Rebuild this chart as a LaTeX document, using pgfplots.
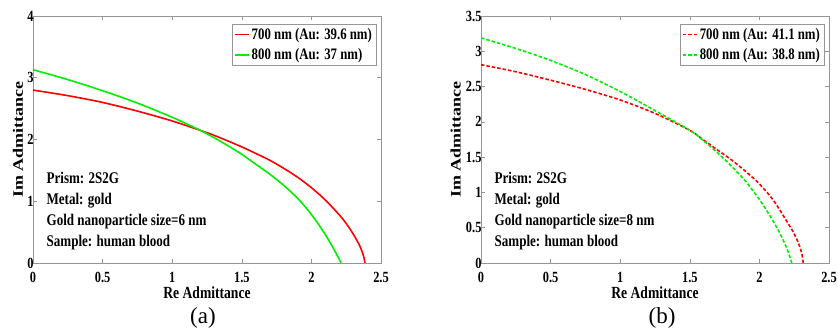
\documentclass[border=0pt]{standalone}
\usepackage{pgfplots}
\pgfplotsset{compat=1.18}
\usepackage{fontspec}
\setmainfont{Liberation Serif}[FakeStretch=0.8]
\newfontfamily\capfont{Liberation Serif}
\definecolor{mred}{RGB}{255,0,0}
\definecolor{mgreen}{RGB}{0,240,0}
\definecolor{framegray}{RGB}{150,150,150}

\pgfplotsset{
 myaxis/.style={
  scale only axis, width=348pt, height=247pt,
  xmin=0, xmax=2.5, ymin=0,
  xtick={0,0.5,1,1.5,2,2.5},
  xticklabels={0,0.5,1,1.5,2,2.5},
  tick align=inside, major tick length=4pt,
  axis line style={framegray, line width=0.8pt},
  every tick/.style={framegray, line width=0.6pt},
  /pgf/number format/assume math mode=true,
  tick label style={font=\bfseries\fontsize{15.5}{15.5}\selectfont, black},
  xticklabel style={yshift=-6pt},
  yticklabel style={xshift=4pt},
  xlabel={Re Admittance}, ylabel={Im Admittance},
  every axis x label/.style={at={(axis description cs:0.5,-0.1215)}, anchor=center, font=\bfseries\fontsize{17}{17}\selectfont},
  legend cell align=left,
  legend style={at={(axis description cs:0.986,0.968)}, anchor=north east, draw=framegray, font=\bfseries\fontsize{16}{16}\selectfont, inner xsep=2pt, inner ysep=2pt, row sep=4pt, /tikz/every even column/.append style={column sep=0pt}},
  legend image code/.code={\draw[#1] (0pt,0pt) -- (14pt,0pt);},
 },
 ylab/.style={every axis y label/.style={at={(axis description cs:#1,0.5)}, anchor=center, rotate=90, yscale=0.8, font=\capfont\bfseries\fontsize{18}{18}\selectfont}},
}
\tikzset{anno/.style={anchor=base west, font=\bfseries\fontsize{16.3}{16.3}\selectfont}}

\pgfplotstableread{
x y
0 2.80
0.25 2.71
0.5 2.60
0.75 2.46
1.0 2.30
1.25 2.11
1.375 2.00
1.5 1.88
1.6 1.775
1.7 1.665
1.8 1.535
1.9 1.39
2.0 1.22
2.1 1.02
2.2 0.78
2.25 0.64
2.3 0.47
2.34 0.31
2.36 0.21
2.375 0.11
2.385 0.0
}\redA
\pgfplotstableread{
x y
0 3.13
0.25 2.97
0.5 2.79
0.75 2.59
1.0 2.36
1.2 2.15
1.3 2.03
1.4 1.90
1.5 1.76
1.6 1.60
1.7 1.44
1.8 1.26
1.9 1.05
1.95 0.925
2.0 0.785
2.05 0.63
2.1 0.46
2.15 0.27
2.2 0.06
2.213 0.0
}\greenA
\pgfplotstableread{
x y
0 2.81
0.25 2.71
0.5 2.59
0.75 2.46
1.0 2.31
1.25 2.12
1.5 1.88
1.6 1.74
1.7 1.60
1.8 1.46
1.9 1.30
2.0 1.12
2.1 0.89
2.2 0.58
2.24 0.45
2.27 0.33
2.29 0.23
2.305 0.13
2.315 0.0
}\redB
\pgfplotstableread{
x y
0 3.19
0.25 3.04
0.5 2.87
0.75 2.67
1.0 2.43
1.25 2.16
1.5 1.88
1.6 1.73
1.7 1.56
1.8 1.37
1.9 1.16
2.0 0.90
2.05 0.75
2.1 0.59
2.15 0.41
2.19 0.24
2.215 0.11
2.232 0.0
}\greenB

\begin{document}
\begin{tikzpicture}
\useasboundingbox (0,0) rectangle (838pt,334pt);
\begin{axis}[myaxis, ylab=-0.043, at={(33pt,71pt)}, anchor=south west, ymax=4, ytick={0,1,2,3,4}, yticklabels={0,1,2,3,4}]
\addplot[mred, line width=1.6pt, smooth, tension=0.5] table {\redA};
\addlegendentry{700 nm (Au: 39.6 nm)}
\addplot[mgreen, line width=1.6pt, smooth, tension=0.5] table {\greenA};
\addlegendentry{800 nm (Au: 37 nm)}
\node[anno] at (axis description cs:0.029,0.320) {Prism: 2S2G};
\node[anno] at (axis description cs:0.029,0.235) {Metal: gold};
\node[anno] at (axis description cs:0.029,0.150) {Gold nanoparticle size=6 nm};
\node[anno] at (axis description cs:0.029,0.065) {Sample: human blood};
\end{axis}
\begin{axis}[myaxis, ylab=-0.073, at={(481pt,71pt)}, anchor=south west, ymax=3.5, ytick={0,0.5,1,1.5,2,2.5,3,3.5}, yticklabels={0,0.5,1,1.5,2,2.5,3,3.5}]
\addplot[mred, line width=1.6pt, dash pattern=on 3.5pt off 2pt, smooth, tension=0.5] table {\redB};
\addlegendentry{700 nm (Au: 41.1 nm)}
\addplot[mgreen, line width=1.6pt, dash pattern=on 3.5pt off 2pt, smooth, tension=0.5] table {\greenB};
\addlegendentry{800 nm (Au: 38.8 nm)}
\node[anno] at (axis description cs:0.029,0.320) {Prism: 2S2G};
\node[anno] at (axis description cs:0.029,0.235) {Metal: gold};
\node[anno] at (axis description cs:0.029,0.150) {Gold nanoparticle size=8 nm};
\node[anno] at (axis description cs:0.029,0.065) {Sample: human blood};
\end{axis}
\node[font=\capfont\fontsize{23}{23}\selectfont] at (203pt,16pt) {(a)};
\node[font=\capfont\fontsize{23}{23}\selectfont] at (662pt,16pt) {(b)};
\end{tikzpicture}
\end{document}
